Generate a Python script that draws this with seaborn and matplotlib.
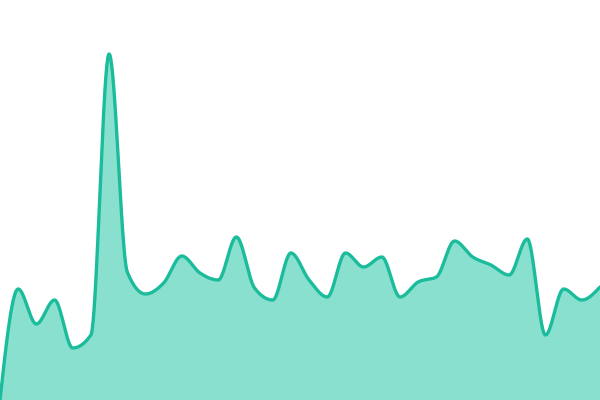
import numpy as np
import pandas as pd
import matplotlib
matplotlib.use("Agg")
import matplotlib.pyplot as plt
import seaborn as sns

# Data (34 evenly spaced samples)
index = list(range(34))
values = [0, 111, 76, 100, 52, 65, 346, 128, 106, 117,
          144, 127, 120, 163, 112, 100, 147, 120, 103, 147,
          133, 143, 103, 118, 123, 159, 143, 135, 125, 161,
          65, 111, 100, 113]

line_color = "#1abc9c"
fill_color = "#8ae0cf"


def monotone_x(x, y, n_per=40):
    # d3 curveMonotoneX style (Steffen) tangents + cubic Hermite
    x = np.asarray(x, float)
    y = np.asarray(y, float)
    h = np.diff(x)
    s = np.diff(y) / h
    t = np.zeros_like(y)
    for i in range(1, len(y) - 1):
        h0, h1 = h[i - 1], h[i]
        s0, s1 = s[i - 1], s[i]
        p = (s0 * h1 + s1 * h0) / (h0 + h1)
        t[i] = (np.sign(s0) + np.sign(s1)) * min(abs(s0), abs(s1), 0.5 * abs(p))
    t[0] = (3 * s[0] - t[1]) / 2
    t[-1] = (3 * s[-1] - t[-2]) / 2
    xs, ys = [], []
    for i in range(len(y) - 1):
        u = np.linspace(0, 1, n_per, endpoint=False)
        h00 = 2 * u**3 - 3 * u**2 + 1
        h10 = u**3 - 2 * u**2 + u
        h01 = -2 * u**3 + 3 * u**2
        h11 = u**3 - u**2
        xs.append(x[i] + u * h[i])
        ys.append(h00 * y[i] + h10 * h[i] * t[i] + h01 * y[i + 1] + h11 * h[i] * t[i + 1])
    xs.append([x[-1]])
    ys.append([y[-1]])
    return np.concatenate(xs), np.concatenate(ys)


cx, cy = monotone_x(index, values)
curve = pd.DataFrame({"x": cx, "y": cy})

sns.set_style("white")
fig = plt.figure(figsize=(6, 4), dpi=100)
ax = fig.add_axes([0, 0, 1, 1])
ax.fill_between(curve["x"], curve["y"], 0, color=fill_color, linewidth=0)
sns.lineplot(data=curve, x="x", y="y", ax=ax, color=line_color, linewidth=2.4, sort=False)

ax.set_xlim(0, 33)
ax.set_ylim(0, 400)
ax.axis("off")

fig.savefig("out.png", dpi=100)
